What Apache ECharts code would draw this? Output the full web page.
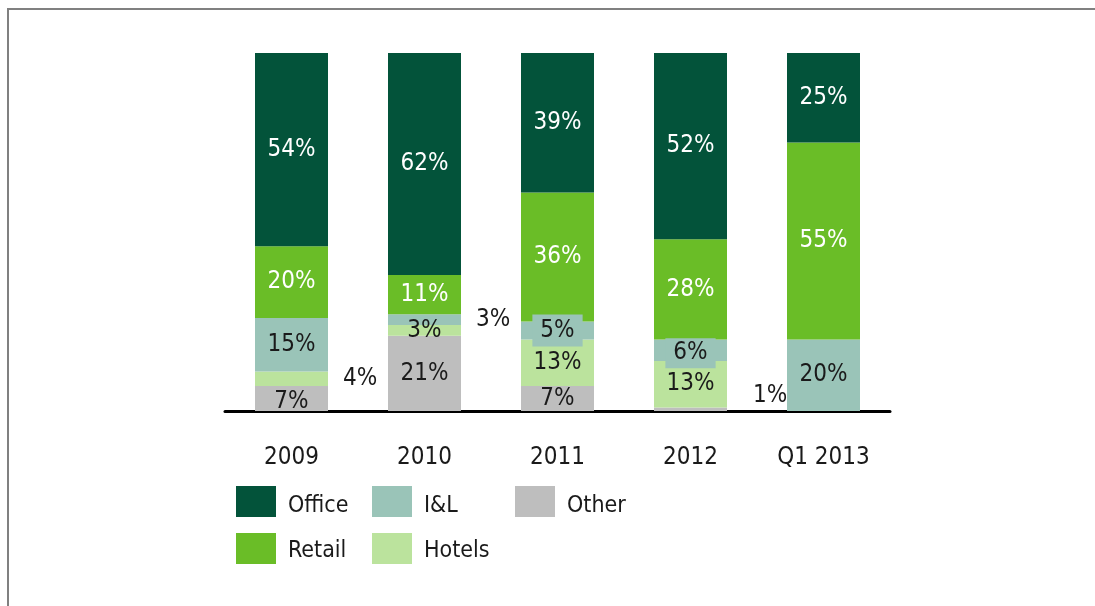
<!DOCTYPE html>
<html>
<head>
<meta charset="utf-8">
<script src="https://cdn.jsdelivr.net/npm/echarts@6/dist/echarts.min.js"></script>
<style>
html,body{margin:0;padding:0;background:#fff;}
#chart{width:1095px;height:606px;}
</style>
</head>
<body>
<div id="chart"></div>
<script>
// ---- data ----
const categories = ['2009', '2010', '2011', '2012', 'Q1 2013'];
const office = [54, 62, 39, 52, 25];
const retail = [20, 11, 36, 28, 55];
const il     = [15, 3, 5, 6, 20];
const hotels = [4, 3, 13, 13, 0];
const other  = [7, 21, 7, 1, 0];

const FONT = "'Liberation Sans Narrow', 'DejaVu Sans Condensed', sans-serif";
const colors = {
  Office: '#03533a', Retail: '#6abd27', 'I&L': '#9ac4b8', Hotels: '#bbe39d', Other: '#bebebe'
};

// label overrides (style only): [seriesName][categoryIndex]
const labelOverrides = {
  Hotels: { 0: { position: 'right', distance: 15 } },
  'I&L': {
    1: { position: 'right', distance: 15 },
    2: { backgroundColor: colors['I&L'], padding: [4, 8, 4, 8] },
    3: { backgroundColor: colors['I&L'], padding: [3, 8, 3, 8], offset: [0, 3] }
  },
  Other: { 0: { offset: [0, 3] }, 3: { position: 'right', distance: 26, offset: [0, -13] } }
};

function buildSeries(name, values, textColor) {
  const ov = labelOverrides[name] || {};
  return {
    name: name,
    type: 'bar',
    stack: 'total',
    barWidth: 73,
    itemStyle: { color: colors[name] },
    label: {
      show: true,
      position: 'inside',
      formatter: '{c}%',
      color: textColor,
      fontFamily: FONT,
      fontSize: 24
    },
    data: values.map((v, i) => {
      const d = { value: v };
      if (v === 0) d.label = { show: false };
      else if (ov[i]) d.label = Object.assign({}, ov[i], (ov[i].position === 'right') ? { color: '#1a1a1a' } : {});
      return d;
    })
  };
}

const series = [
  buildSeries('Other', other, '#1a1a1a'),
  buildSeries('Hotels', hotels, '#1a1a1a'),
  buildSeries('I&L', il, '#1a1a1a'),
  buildSeries('Retail', retail, '#ffffff'),
  buildSeries('Office', office, '#ffffff')
];

function legendItem(name, left, top, shift) {
  return {
    data: [name],
    left: left, top: top,
    padding: 0,
    icon: 'rect',
    itemWidth: 40, itemHeight: 31,
    itemGap: 0,
    selectedMode: false,
    formatter: '{t|{name}}',
    textStyle: {
      fontFamily: FONT, fontSize: 23, color: '#1a1a1a',
      rich: { t: { fontFamily: FONT, fontSize: 23, color: '#1a1a1a', padding: [shift * 2, 0, 0, 7] } }
    }
  };
}

const chart = echarts.init(document.getElementById('chart'), null, { renderer: 'canvas' });
chart.setOption({
  animation: false,
  backgroundColor: '#ffffff',
  grid: { left: 225, right: 205, top: 53, bottom: 195 },
  xAxis: {
    type: 'category',
    data: categories,
    axisLine: { lineStyle: { color: '#000', width: 3 } },
    axisTick: { show: false },
    axisLabel: { fontFamily: FONT, fontSize: 24, color: '#1a1a1a', margin: 35 }
  },
  yAxis: { type: 'value', min: 0, max: 100, show: false },
  legend: [
    legendItem('Office', 236, 486, 5),
    legendItem('I&L', 372, 486, 5),
    legendItem('Other', 515, 486, 5),
    legendItem('Retail', 236, 533, 3),
    legendItem('Hotels', 372, 533, 3)
  ],
  graphic: [{
    type: 'polyline',
    shape: { points: [[8, 606], [8, 9], [1095, 9]] },
    style: { stroke: '#808080', lineWidth: 2, fill: null },
    silent: true
  }],
  series: series
});
</script>
</body>
</html>
